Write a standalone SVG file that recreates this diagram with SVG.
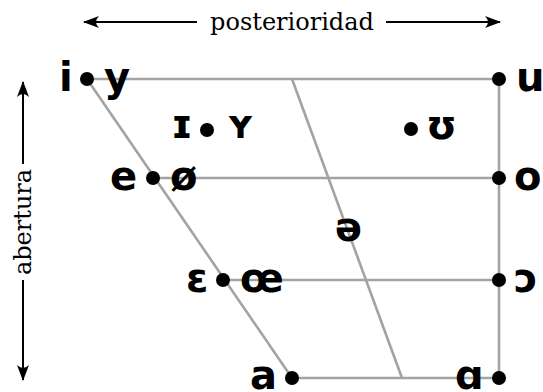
<svg xmlns="http://www.w3.org/2000/svg" width="543" height="392" viewBox="0 0 543 392">
<style>
.ln{stroke:#a3a3a3;stroke-width:2.6;fill:none}
.ax{stroke:#000;stroke-width:2;fill:none}
.dot{fill:#000}
.v{font-family:"DejaVu Sans",sans-serif;font-weight:bold;font-size:40px;fill:#000}
.lab{font-family:"DejaVu Serif",serif;font-size:24px;fill:#000}
</style>
<defs>
<marker id="ah" viewBox="0 0 16 12" refX="15" refY="6" markerWidth="16" markerHeight="12" markerUnits="userSpaceOnUse" orient="auto">
<path d="M0,0 Q6,6 0,12 L16,6 Z" fill="#000"/>
</marker>
</defs>
<g id="connectors">
<line class="ln" x1="87" y1="79" x2="499" y2="79"/>
<line class="ln" x1="152" y1="178" x2="499" y2="178"/>
<line class="ln" x1="223" y1="280" x2="499" y2="280"/>
<line class="ln" x1="292" y1="378" x2="499" y2="378"/>
<line class="ln" x1="499" y1="79" x2="499" y2="378"/>
<line class="ln" x1="87" y1="79" x2="292" y2="378"/>
<line class="ln" x1="292" y1="79" x2="402" y2="378"/>
</g>
<g id="axis-posterioridad">
<line class="ax" x1="197" y1="22" x2="84" y2="22" marker-end="url(#ah)"/>
<line class="ax" x1="386" y1="22" x2="500" y2="22" marker-end="url(#ah)"/>
<text class="lab" x="292" y="30" text-anchor="middle">posterioridad</text>
</g>
<g id="axis-abertura">
<line class="ax" x1="23" y1="164" x2="23" y2="82" marker-end="url(#ah)"/>
<line class="ax" x1="23" y1="280" x2="23" y2="380" marker-end="url(#ah)"/>
<text class="lab" transform="translate(31,222) rotate(-90)" text-anchor="middle">abertura</text>
</g>
<g id="node-i-y">
<circle class="dot" cx="87" cy="79" r="7"/>
<text class="v" x="59" y="91">i</text>
<text class="v" x="104" y="91">y</text>
</g>
<g id="node-u">
<circle class="dot" cx="499" cy="79" r="7"/>
<text class="v" x="516" y="91">u</text>
</g>
<g id="node-I-Y">
<circle class="dot" cx="207" cy="130" r="7"/>
<text class="v" x="171" y="138">ɪ</text>
<text class="v" x="226" y="138">ʏ</text>
</g>
<g id="node-U">
<circle class="dot" cx="411" cy="129" r="7"/>
<text class="v" x="426" y="139">ʊ</text>
</g>
<g id="node-e-o-slash">
<circle class="dot" cx="153" cy="178" r="7"/>
<text class="v" x="110" y="190">e</text>
<text class="v" x="170" y="190">ø</text>
</g>
<g id="node-o">
<circle class="dot" cx="499" cy="178" r="7"/>
<text class="v" x="514" y="190">o</text>
</g>
<g id="node-schwa">
<text class="v" x="335" y="241">ə</text>
</g>
<g id="node-E-oe">
<circle class="dot" cx="223" cy="280" r="7"/>
<text class="v" x="186" y="292">ɛ</text>
<text class="v" x="240" y="292">œ</text>
</g>
<g id="node-open-o">
<circle class="dot" cx="499" cy="280" r="7"/>
<text class="v" x="514" y="292">ɔ</text>
</g>
<g id="node-a">
<circle class="dot" cx="292" cy="378" r="7"/>
<text class="v" x="250" y="389">a</text>
</g>
<g id="node-alpha">
<circle class="dot" cx="499" cy="378" r="7"/>
<text class="v" x="455" y="389">ɑ</text>
</g>
</svg>
